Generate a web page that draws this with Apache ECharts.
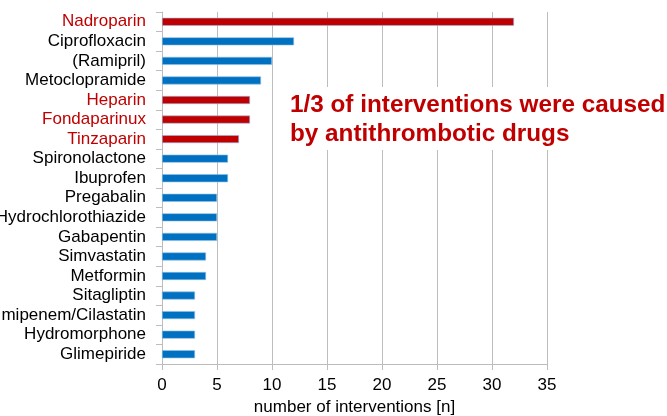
<!DOCTYPE html>
<html>
<head>
<meta charset="utf-8">
<script src="https://cdn.jsdelivr.net/npm/echarts@6/dist/echarts.min.js"></script>
<style>
  html, body { margin: 0; padding: 0; background: #fff; }
  #chart { width: 667px; height: 416px; }
</style>
</head>
<body>
<div id="chart"></div>
<script>
// drugs, top to bottom
const drugs = ['Nadroparin', 'Ciprofloxacin', '(Ramipril)', 'Metoclopramide', 'Heparin',
    'Fondaparinux', 'Tinzaparin', 'Spironolactone', 'Ibuprofen', 'Pregabalin',
    'Hydrochlorothiazide', 'Gabapentin', 'Simvastatin', 'Metformin', 'Sitagliptin',
    'Imipenem/Cilastatin', 'Hydromorphone', 'Glimepiride'];
const interventions = [32, 12, 10, 9, 8, 8, 7, 6, 6, 5, 5, 5, 4, 4, 3, 3, 3, 3];
// antithrombotic drugs are highlighted in red
const antithrombotic = ['Nadroparin', 'Heparin', 'Fondaparinux', 'Tinzaparin'];
const xTicks = [0, 35, 5];

const red = '#C00000';
const blue = '#0070C0';

const chart = echarts.init(document.getElementById('chart'));

const option = {
    animation: false,
    grid: { left: 162, right: 120, top: 12, bottom: 52, outerBoundsMode: 'none', containLabel: false },
    xAxis: {
        type: 'value',
        min: xTicks[0],
        max: xTicks[1],
        interval: xTicks[2],
        name: 'number of interventions [n]',
        nameLocation: 'middle',
        nameGap: 35,
        nameTextStyle: { fontFamily: 'Liberation Sans', fontSize: 17, color: '#000' },
        axisLine: { show: true, lineStyle: { color: '#bdbdbd' } },
        axisTick: { show: true, length: 6, lineStyle: { color: '#bdbdbd' } },
        axisLabel: { fontFamily: 'Liberation Sans', fontSize: 17, color: '#000', margin: 13 },
        splitLine: { show: true, lineStyle: { color: '#bdbdbd' } }
    },
    yAxis: {
        type: 'category',
        inverse: true,
        data: drugs,
        axisLine: { show: true, lineStyle: { color: '#bdbdbd' } },
        axisTick: { show: true, length: 6, lineStyle: { color: '#bdbdbd' } },
        axisLabel: {
            interval: 0,
            fontFamily: 'Liberation Sans',
            fontSize: 17,
            margin: 16,
            color: function (value) {
                return antithrombotic.includes(value) ? red : '#000';
            }
        }
    },
    series: [{
        type: 'bar',
        data: interventions,
        barWidth: 8,
        itemStyle: {
            color: function (params) {
                return antithrombotic.includes(drugs[params.dataIndex]) ? red : blue;
            },
            borderColor: '#8fbde6',
            borderWidth: 0.6
        }
    }],
    graphic: [{
        // annotation box, white background hides the grid lines behind it
        type: 'text',
        left: 286,
        top: 87,
        z: 100,
        style: {
            text: '1/3 of interventions were caused\nby antithrombotic drugs',
            fill: red,
            font: 'bold 24.3px "Liberation Sans"',
            lineHeight: 29,
            backgroundColor: '#fff',
            padding: [4, 2, 1, 4]
        }
    }]
};

chart.setOption(option);
</script>
</body>
</html>
